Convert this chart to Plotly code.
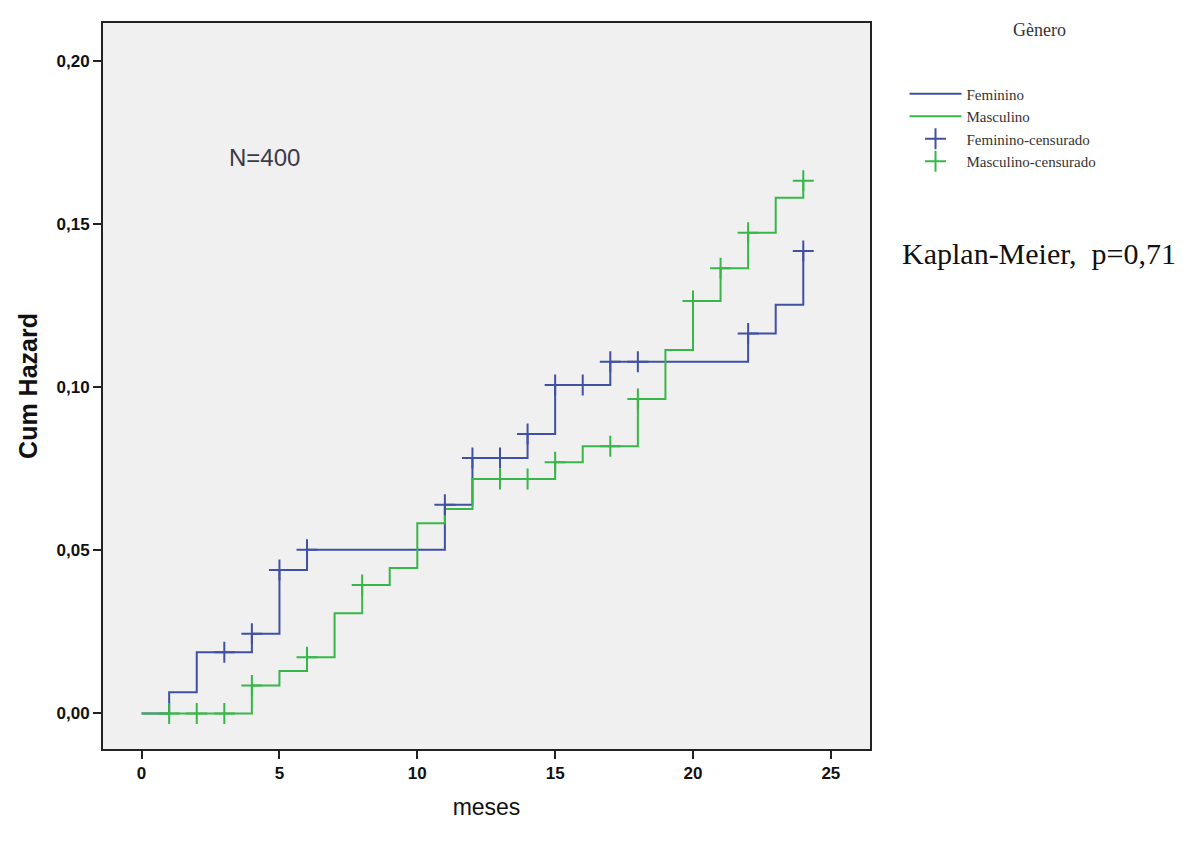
import plotly.graph_objects as go

# ---- data ----
fem_t = [0, 1, 2, 4, 5, 6, 11, 12, 14, 15, 17, 22, 23, 24]
fem_h = [0.0, 0.0065, 0.0188, 0.0244, 0.0440, 0.0502, 0.0640, 0.0783, 0.0857, 0.1007, 0.1078, 0.1165, 0.1253, 0.1418]
mas_t = [0, 4, 5, 6, 7, 8, 9, 10, 11, 12, 15, 16, 18, 19, 20, 21, 22, 23, 24]
mas_h = [0.0, 0.0086, 0.0130, 0.0172, 0.0307, 0.0394, 0.0446, 0.0583, 0.0627, 0.0719, 0.0770, 0.0819, 0.0964, 0.1114, 0.1265, 0.1365, 0.1474, 0.1581, 0.1633]
fem_cens = [3, 4, 5, 6, 11, 12, 13, 14, 15, 16, 17, 18, 22, 24]
mas_cens = [1, 2, 3, 4, 6, 8, 13, 14, 15, 17, 18, 20, 21, 22, 24]
x_ticks = [0, 5, 10, 15, 20, 25]
y_ticks = [0.0, 0.05, 0.10, 0.15, 0.20]


def step_val(ts, hs, t):
    v = hs[0]
    for ti, hi in zip(ts, hs):
        if ti <= t:
            v = hi
    return v


BLUE = "#4050A2"
GREEN = "#38B64A"

fig = go.Figure()
fig.add_trace(go.Scatter(x=fem_t, y=fem_h, mode="lines", line=dict(color=BLUE, width=2, shape="hv"),
                         name="Feminino"))
fig.add_trace(go.Scatter(x=mas_t, y=mas_h, mode="lines", line=dict(color=GREEN, width=2, shape="hv"),
                         name="Masculino"))
fig.add_trace(go.Scatter(x=fem_cens, y=[step_val(fem_t, fem_h, t) for t in fem_cens], mode="markers",
                         marker=dict(symbol="cross-thin", size=15, line=dict(color=BLUE, width=2)),
                         name="Feminino-censurado"))
fig.add_trace(go.Scatter(x=mas_cens, y=[step_val(mas_t, mas_h, t) for t in mas_cens], mode="markers",
                         marker=dict(symbol="cross-thin", size=15, line=dict(color=GREEN, width=2)),
                         name="Masculino-censurado"))

axis_common = dict(showline=True, linecolor="#222", linewidth=2, mirror=True, ticks="outside",
                   ticklen=8, tickwidth=1.5, tickcolor="#222", showgrid=False, zeroline=False,
                   tickfont=dict(family="Liberation Sans, Arial", size=17, color="#111", weight="bold"))

fig.update_layout(
    width=1201, height=847,
    margin=dict(l=95, r=339, t=15, b=106),
    paper_bgcolor="white", plot_bgcolor="#F0F0F0",
    separators=",.",
    showlegend=True,
    legend=dict(x=1.045, y=0.925, xanchor="left", yanchor="top", bgcolor="rgba(0,0,0,0)",
                font=dict(family="Liberation Serif, Times New Roman", size=15, color="#333"),
                tracegroupgap=0, itemwidth=52),
    xaxis=dict(range=[-1.4, 26.42], tickvals=x_ticks, **axis_common,
               title=dict(text="meses", standoff=16,
                          font=dict(family="Liberation Sans, Arial", size=23, color="#111"))),
    yaxis=dict(range=[-0.0109, 0.2117], tickvals=y_ticks, tickformat=".2f", **axis_common,
               title=dict(text="Cum Hazard", standoff=12,
                          font=dict(family="Liberation Sans, Arial", size=25, color="#111", weight="bold"))),
    annotations=[
        dict(text="Gènero", x=1.2216, y=0.99, xref="paper", yref="paper", showarrow=False,
             xanchor="center", yanchor="middle",
             font=dict(family="Liberation Serif, Times New Roman", size=18, color="#333")),
        dict(text="Kaplan-Meier,  p=0,71", x=1.039, y=0.682, xref="paper", yref="paper", showarrow=False,
             xanchor="left", yanchor="middle",
             font=dict(family="Liberation Serif, Times New Roman", size=30, color="#111")),
        dict(text="N=400", x=0.211, y=0.815, xref="paper", yref="paper", showarrow=False,
             xanchor="center", yanchor="middle",
             font=dict(family="Liberation Sans, Arial", size=24, color="#3a3a48")),
    ],
)

fig.write_html("out.html")
